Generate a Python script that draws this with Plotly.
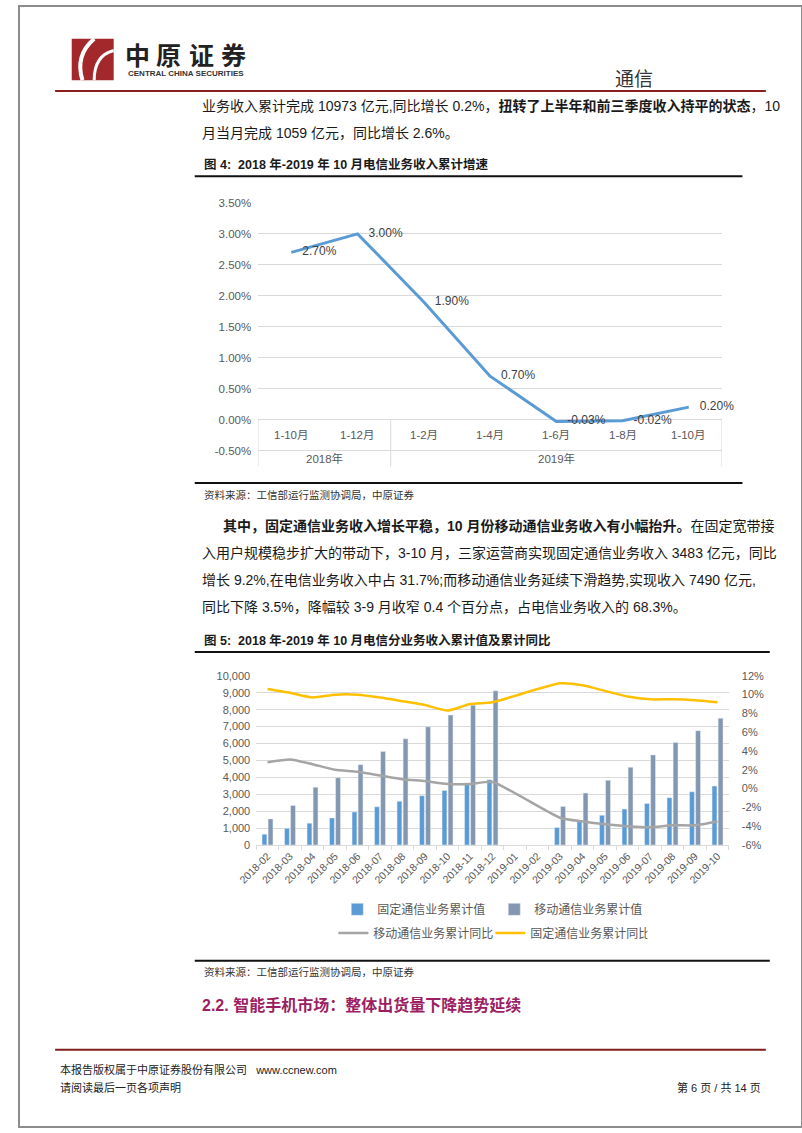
import plotly.graph_objects as go

W, H = 802, 1133
def px(x): return x / W
def py(y): return 1 - y / H

# ---------------- Data: Figure 4 ----------------
periods1 = ["1-10月", "1-12月", "1-2月", "1-4月", "1-6月", "1-8月", "1-10月"]
period_year1 = ["2018年", "2018年", "2019年", "2019年", "2019年", "2019年", "2019年"]
growth1 = [2.70, 3.00, 1.90, 0.70, -0.03, -0.02, 0.20]
ytick1_vals = [-0.5, 0.0, 0.5, 1.0, 1.5, 2.0, 2.5, 3.0, 3.5]
ytick1_text = ["-0.50%", "0.00%", "0.50%", "1.00%", "1.50%", "2.00%", "2.50%", "3.00%", "3.50%"]

# ---------------- Data: Figure 5 ----------------
months2 = ["2018-02", "2018-03", "2018-04", "2018-05", "2018-06", "2018-07", "2018-08",
           "2018-09", "2018-10", "2018-11", "2018-12", "2019-01", "2019-02", "2019-03",
           "2019-04", "2019-05", "2019-06", "2019-07", "2019-08", "2019-09", "2019-10"]
fixed_cum = [640, 985, 1293, 1602, 1950, 2259, 2587, 2915, 3224, 3610, 3861, None, None,
             1042, 1467, 1757, 2124, 2452, 2799, 3147, 3483]
mobile_cum = [1544, 2336, 3417, 3977, 4749, 5521, 6274, 6988, 7683, 8263, 9112, None, None,
              2278, 3069, 3822, 4595, 5328, 6062, 6757, 7490]
mobile_yoy = [2.8, 3.1, 2.6, 2.0, 1.8, 1.4, 1.0, 0.8, 0.5, 0.5, 0.7, None, None,
              -3.1, -3.5, -3.8, -4.0, -4.1, -3.9, -3.9, -3.5]
fixed_yoy = [10.6, 10.2, 9.7, 10.0, 10.0, 9.7, 9.3, 8.9, 8.3, 9.0, 9.2, None, None,
             11.2, 11.0, 10.4, 9.8, 9.5, 9.5, 9.4, 9.2]
ytick3_vals = [-6, -4, -2, 0, 2, 4, 6, 8, 10, 12]
ytick3_text = ["-6%", "-4%", "-2%", "0%", "2%", "4%", "6%", "8%", "10%", "12%"]
series_names = ["固定通信业务累计值", "移动通信业务累计值", "移动通信业务累计同比", "固定通信业务累计同比"]

NUM_FONT = "Liberation Sans, Arial, Noto Sans CJK SC, sans-serif"
CJK_FONT = "Liberation Sans, Noto Sans CJK SC, sans-serif"
GRID = "#D9D9D9"
TICK = "#595959"

fig = go.Figure()

# Figure 4 line
fig.add_trace(go.Scatter(
    x=list(range(len(growth1))), y=growth1, mode="lines+markers+text",
    line=dict(color="#5B9BD5", width=3),
    marker=dict(size=16, color="rgba(0,0,0,0)"),
    text=[f"{v:.2f}%" for v in growth1], textposition="middle right",
    textfont=dict(family=NUM_FONT, size=12, color="#404040"),
    xaxis="x", yaxis="y", showlegend=False, cliponaxis=False, hoverinfo="skip"))

# Figure 5 bars
fig.add_trace(go.Bar(x=months2, y=fixed_cum, name=series_names[0], marker_color="#5B9BD5",
                     xaxis="x2", yaxis="y2", legend="legend"))
fig.add_trace(go.Bar(x=months2, y=mobile_cum, name=series_names[1], marker_color="#8497B0",
                     xaxis="x2", yaxis="y2", legend="legend"))
# Figure 5 lines
fig.add_trace(go.Scatter(x=months2, y=mobile_yoy, name=series_names[2], mode="lines",
                         line=dict(color="#A5A5A5", width=2.5, shape="spline", smoothing=0.5),
                         connectgaps=True, xaxis="x2", yaxis="y3", legend="legend2"))
fig.add_trace(go.Scatter(x=months2, y=fixed_yoy, name=series_names[3], mode="lines",
                         line=dict(color="#FFC000", width=2.5, shape="spline", smoothing=0.5),
                         connectgaps=True, xaxis="x2", yaxis="y3", legend="legend2"))

shapes = []
annotations = []

def hline(y, x0, x1, color, width):
    shapes.append(dict(type="line", xref="paper", yref="paper", x0=px(x0), x1=px(x1),
                       y0=py(y), y1=py(y), line=dict(color=color, width=width)))

def text(x, y, s, size, color="#1a1a1a", anchor="left", font=CJK_FONT):
    annotations.append(dict(xref="paper", yref="paper", x=px(x), y=py(y), text=s,
                            showarrow=False, xanchor=anchor, yanchor="middle",
                            font=dict(family=font, size=size, color=color)))

# page border
shapes.append(dict(type="rect", xref="paper", yref="paper", x0=0, x1=1, y0=0, y1=1,
                   line=dict(color="#8C8C8C", width=2)))

# header logo
shapes.append(dict(type="rect", xref="paper", yref="paper", x0=px(54), x1=px(97),
                   y0=py(75), y1=py(33), fillcolor="#A3282B", line=dict(width=0)))
shapes.append(dict(type="path", xref="paper", yref="paper",
                   path=f"M {px(77)},{py(33)} Q {px(57)},{py(50)} {px(65)},{py(75)}",
                   line=dict(color="white", width=4)))
shapes.append(dict(type="path", xref="paper", yref="paper",
                   path=f"M {px(97)},{py(45)} Q {px(77)},{py(50)} {px(77)},{py(75)}",
                   line=dict(color="white", width=3)))
for ch, cx in zip("中原证券", [121, 153, 187, 220]):
    text(cx, 49, f"<b>{ch}</b>", 25, "#222222", "center", "Noto Sans CJK SC")
text(171, 68, "<b>CENTRAL CHINA SECURITIES</b>", 8, "#333333", "center", NUM_FONT)
text(630, 72, "通信", 19, "#333333", "center", "Noto Sans CJK SC")
hline(86, 37, 765, "#8B1E1E", 2)

# body text
text(185, 101, "业务收入累计完成 10973 亿元,同比增长 0.2%，<b>扭转了上半年和前三季度收入持平的状态</b>，10", 14)
text(185, 128, "月当月完成 1059 亿元，同比增长 2.6%。", 14)

# figure 4 title/frame
text(187, 160, "<b>图 4:  2018 年-2019 年 10 月电信业务收入累计增速</b>", 12.5)
hline(172, 180, 741, "#111111", 2)
hline(482, 180, 741, "#111111", 2)
text(187, 494, "资料来源：工信部运行监测协调局，中原证券", 10.5, "#333333")

# figure 4 category labels (inside plot) and year group labels
for i, lab in enumerate(periods1):
    annotations.append(dict(xref="x", yref="y", x=i, y=-0.25, text=lab, showarrow=False,
                            font=dict(family=CJK_FONT, size=11.5, color=TICK)))
years = []
for i, yv in enumerate(period_year1):
    if not years or years[-1][0] != yv:
        years.append([yv, i, i])
    else:
        years[-1][2] = i
for yv, a, b in years:
    annotations.append(dict(xref="x", yref="y", x=(a + b) / 2, y=-0.63, text=yv, showarrow=False,
                            font=dict(family=CJK_FONT, size=11.5, color=TICK)))
bounds = [years[0][1] - 0.5] + [b + 0.5 for _, _, b in years]
for bx in bounds:
    shapes.append(dict(type="line", xref="x", yref="y", x0=bx, x1=bx, y0=0, y1=-0.76,
                       line=dict(color=GRID, width=1)))

# paragraph 2
text(207, 526, "<b>其中，固定通信业务收入增长平稳，10 月份移动通信业务收入有小幅抬升。</b>在固定宽带接", 14)
text(185, 553, "入用户规模稳步扩大的带动下，3-10 月，三家运营商实现固定通信业务收入 3483 亿元，同比", 14)
text(185, 580, "增长 9.2%,在电信业务收入中占 31.7%;而移动通信业务延续下滑趋势,实现收入 7490 亿元,", 14)
text(185, 607, "同比下降 3.5%，降幅较 3-9 月收窄 0.4 个百分点，占电信业务收入的 68.3%。", 14)

# figure 5 title/frame
text(187, 641, "<b>图 5:  2018 年-2019 年 10 月电信分业务收入累计值及累计同比</b>", 12.5)
hline(653, 180, 769, "#111111", 2)
hline(965, 180, 769, "#111111", 2)
text(187, 976, "资料来源：工信部运行监测协调局，中原证券", 10.5, "#333333")

# section heading
text(185, 1010, "<b>2.2. 智能手机市场：整体出货量下降趋势延续</b>", 16, "#9C1F63")

# footer
hline(1055, 37, 765, "#7F1D1D", 2)
text(40, 1075, "本报告版权属于中原证券股份有限公司   www.ccnew.com", 11, "#222222")
text(40, 1093, "请阅读最后一页各项声明", 11, "#222222")
text(762, 1093, "第 6 页 / 共 14 页", 11, "#222222", "right")

fig.update_layout(
    width=W, height=H, margin=dict(l=0, r=0, t=0, b=0, pad=0),
    paper_bgcolor="white", plot_bgcolor="white",
    barmode="group", bargap=0.46, bargroupgap=0.2,
    shapes=shapes, annotations=annotations,
    xaxis=dict(domain=[px(245), px(720)], range=[-0.5, 6.5], anchor="y",
               showticklabels=False, showgrid=False, zeroline=False, showline=False, ticks=""),
    yaxis=dict(domain=[py(465.5), py(199)], range=[-0.76, 3.5], anchor="x",
               tickvals=ytick1_vals, ticktext=ytick1_text, showgrid=True, gridcolor=GRID,
               zeroline=False, showline=False, ticks="", ticklabelstandoff=6,
               tickfont=dict(family=NUM_FONT, size=11.5, color=TICK)),
    xaxis2=dict(domain=[px(243), px(727)], anchor="y2", type="category",
                tickangle=-45, ticks="outside", tickson="boundaries", ticklen=4,
                tickcolor=GRID, showline=True, linecolor=GRID, showgrid=False,
                tickfont=dict(family=NUM_FONT, size=10.5, color=TICK)),
    yaxis2=dict(domain=[py(848), py(677)], anchor="x2", range=[0, 10000], dtick=1000,
                tickformat=",", showgrid=True, gridcolor=GRID, zeroline=False, showline=False,
                ticks="", ticklabelstandoff=5,
                tickfont=dict(family=NUM_FONT, size=11, color=TICK)),
    yaxis3=dict(overlaying="y2", side="right", anchor="x2", range=[-6, 12],
                tickvals=ytick3_vals, ticktext=ytick3_text, showgrid=False, zeroline=False,
                showline=False, ticks="", ticklabelstandoff=12,
                tickfont=dict(family=NUM_FONT, size=11, color=TICK)),
    legend=dict(orientation="h", x=px(326), y=py(913), xanchor="left", yanchor="middle",
                font=dict(family=CJK_FONT, size=12, color=TICK), bgcolor="rgba(0,0,0,0)",
                entrywidth=112, entrywidthmode="pixels", itemwidth=30),
    legend2=dict(orientation="h", x=px(322), y=py(937), xanchor="left", yanchor="middle",
                 font=dict(family=CJK_FONT, size=12, color=TICK), bgcolor="rgba(0,0,0,0)",
                 entrywidth=112, entrywidthmode="pixels", itemwidth=30),
    showlegend=True,
)

fig.write_html("out.html", config={"displayModeBar": False},
               post_script="document.body.style.margin='0';document.body.style.padding='0';"
                           "document.documentElement.style.overflow='hidden';")
